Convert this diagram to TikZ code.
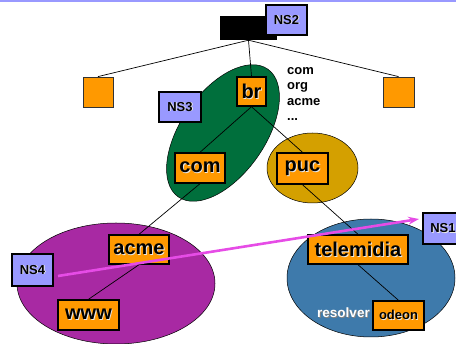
\documentclass[tikz,border=0pt]{standalone}
\usepackage{fontspec}
\setmainfont{Liberation Sans}
\usetikzlibrary{arrows.meta,shapes.geometric}
\pgfdeclarelayer{zones}
\pgfdeclarelayer{wires}
\pgfsetlayers{zones,wires,main}
\definecolor{orangec}{HTML}{FF9900}
\definecolor{nsc}{HTML}{9999FF}
\definecolor{greenc}{HTML}{006F3C}
\definecolor{pucc}{HTML}{D4A000}
\definecolor{purplec}{HTML}{A829A3}
\definecolor{bluec}{HTML}{3E7AAB}
\definecolor{pinkc}{HTML}{E64CE6}
\definecolor{shadowc}{HTML}{E8E8E8}
\newcommand\shd[1]{\rlap{\hspace{0.9pt}\raisebox{-0.9pt}{\textcolor{shadowc}{#1}}}#1}
\newcommand\shdw[1]{\rlap{\hspace{0.9pt}\raisebox{-0.9pt}{\textcolor{gray}{#1}}}\textcolor{white}{#1}}
\tikzset{
  lbl/.style={draw=black, line width=1.4pt, fill=orangec, inner sep=0pt,
              font=\fontsize{20}{20}\selectfont\bfseries},
  nsbox/.style={draw=black, line width=1.8pt, fill=nsc, inner sep=0pt,
              font=\fontsize{13}{13}\selectfont\bfseries},
  sqbox/.style={draw=black!80, line width=0.8pt, fill=orangec, inner sep=0pt},
  wire/.style={line width=0.7pt, black},
  zone/.style={ellipse, draw=black, line width=0.5pt, inner sep=0pt},
  ptr/.style={line width=2.6pt, pinkc, -{Stealth[length=11pt,width=8pt,inset=4pt]}}
}
\begin{document}
\begin{tikzpicture}[x=1pt,y=-1pt]
\useasboundingbox (0,0) rectangle (456,344);
\clip (0,0) rectangle (456,344);
\begin{pgfonlayer}{zones}
\fill[nsc] (0,0) rectangle (456,1.6);
\node[zone, fill=greenc, minimum width=156pt, minimum height=84pt, rotate=55] (zbr) at (223,133) {};
\node[zone, fill=pucc, minimum width=91pt, minimum height=70pt] (zpuc) at (312.5,168) {};
\node[zone, fill=purplec, minimum width=198pt, minimum height=121pt] (zacme) at (116,283.5) {};
\node[zone, fill=bluec, minimum width=168pt, minimum height=118pt] (ztel) at (371,278) {};
\end{pgfonlayer}
% boxes
\node[fill=black, minimum width=57pt, minimum height=24pt, inner sep=0pt] (root) at (248.5,28) {};
\node[sqbox, minimum width=30pt, minimum height=30pt] (lsq) at (98,92) {};
\node[sqbox, minimum width=31pt, minimum height=30pt] (rsq) at (398.5,92) {};
\node[lbl, minimum width=29pt, minimum height=29pt] (br) at (251.5,91.5) {\shd{br}};
\node[lbl, minimum width=50pt, minimum height=30pt] (com) at (200,168) {\shd{com}};
\node[lbl, minimum width=51pt, minimum height=31pt] (puc) at (302.5,168.5) {\shd{puc}};
\node[lbl, minimum width=60pt, minimum height=29pt] (acme) at (139,249.5) {\shd{acme}};
\node[lbl, minimum width=61pt, minimum height=30pt] (www) at (88.5,315) {\shd{www}};
\node[lbl, minimum width=100pt, minimum height=29pt] (tel) at (358,249.5) {\shd{telemidia}};
\node[lbl, minimum width=51pt, minimum height=29pt, font=\fontsize{13}{13}\selectfont\bfseries] (odeon) at (398.5,315.5) {\shd{odeon}};
% wires
\begin{pgfonlayer}{wires}
\draw[wire] (root.south) -- (lsq.north);
\draw[wire] (root.south) -- (rsq.north);
\draw[wire] (root.south) -- (br.north);
\draw[wire] (br.south) -- (com.north);
\draw[wire] (br.south) -- (puc.north);
\draw[wire] (com.south) -- (acme.north);
\draw[wire] (puc.south) -- (tel.north);
\draw[wire] (acme.south) -- (www.north);
\draw[wire] (tel.south) -- (odeon.north);
\end{pgfonlayer}
% texts
\node[anchor=north west, align=left, inner sep=0pt, font=\fontsize{13}{15.5}\selectfont\bfseries] (list) at (287,67) {com\\org\\acme\\...};
\node[inner sep=0pt, font=\fontsize{13.5}{13.5}\selectfont\bfseries] (res) at (343.5,313) {\shdw{resolver}};
% NS boxes
\node[nsbox, minimum width=41pt, minimum height=30pt] (ns2) at (286.5,20) {\shd{NS2}};
\node[nsbox, minimum width=42pt, minimum height=30pt] (ns3) at (180,107) {\shd{NS3}};
\node[nsbox, minimum width=41pt, minimum height=32pt] (ns4) at (32.5,270) {\shd{NS4}};
\node[nsbox, minimum width=40pt, minimum height=31pt] (ns1) at (443,228.5) {\shd{NS1}};
% pointer
\coordinate (p0) at (58,276);
\coordinate (p1) at (419,219);
\draw[ptr] (p0) -- (p1);
\end{tikzpicture}
\end{document}
